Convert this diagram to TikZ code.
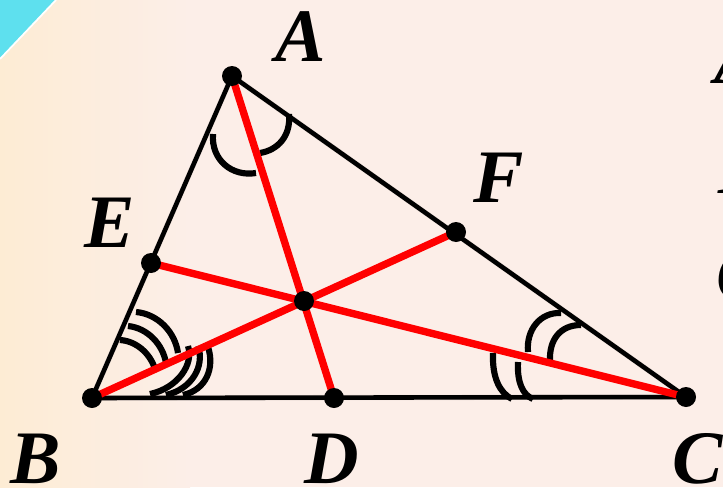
\documentclass[tikz,border=0pt]{standalone}
\usepackage{fontspec}
\setmainfont{Liberation Serif}
\definecolor{bgpink}{RGB}{252,238,232}
\definecolor{bgcream}{RGB}{253,236,212}
\definecolor{cornercyan}{RGB}{94,224,238}
\definecolor{segred}{RGB}{255,0,0}
\definecolor{shadowc}{RGB}{226,212,206}
\begin{document}
\begin{tikzpicture}[x=0.02cm,y=-0.02cm,
  side/.style={line width=2.6pt, black, line cap=round, line join=round},
  bisector/.style={line width=4.2pt, segred},
  anglemark/.style={line width=3.5pt, black},
  shadowline/.style={line width=3pt, shadowc},
  dot/.style={circle, fill=black, inner sep=0pt, minimum size=0.4cm},
  lab/.style={inner sep=0pt, font=\fontsize{43}{43}\selectfont\bfseries\itshape}]
\useasboundingbox (0,0) rectangle (723,487);
\clip (0,0) rectangle (723,487);
% background
\fill[bgpink] (0,0) rectangle (723,487);
\shade[left color=bgcream, right color=bgpink] (0,0) rectangle (190,487);
\fill[cornercyan] (0,0) -- (56,0) -- (0,59) -- cycle;
\draw[white, line width=1pt] (56,0) -- (0,59);
% points
\coordinate (A) at (232,76);
\coordinate (B) at (92,398);
\coordinate (C) at (686,397);
\coordinate (D) at (334,398);
\coordinate (E) at (151,263);
\coordinate (F) at (456,232);
\coordinate (O) at (304,301);
% soft shadows
\begin{scope}[shift={(3,4)}]
\draw[shadowline] (A) -- (B) -- (C) -- cycle;
\end{scope}
% triangle
\draw[side] (A) -- (B) -- (C) -- cycle;
% angle marks at A
\draw[anglemark] (213,134) .. controls (211,160) and (232,177) .. (256,173);
\draw[anglemark] (260,153) .. controls (278,150) and (291,136) .. (289,114);
% angle marks at B (upper)
\draw[anglemark] (120,340) .. controls (136,341) and (150,353) .. (155,369);
\draw[anglemark] (128,326) .. controls (148,328) and (163,345) .. (166,363);
\draw[anglemark] (136,312) .. controls (158,314) and (175,332) .. (178,353);
% angle marks at B (lower)
\draw[anglemark] (188,346) .. controls (194,364) and (178,388) .. (150,394);
\draw[anglemark] (198,346) .. controls (205,366) and (192,389) .. (166,395);
\draw[anglemark] (208,347) .. controls (215,368) and (206,390) .. (183,395);
% angle marks at C (upper)
\draw[anglemark] (528,352) .. controls (526,330) and (540,312) .. (561,313);
\draw[anglemark] (550,361) .. controls (549,340) and (560,325) .. (581,325);
% angle marks at C (lower)
\draw[anglemark] (493,353) .. controls (492,378) and (500,393) .. (512,399);
\draw[anglemark] (518,362) .. controls (517,383) and (523,395) .. (533,399);
% bisectors
\draw[bisector] (A) -- (D);
\draw[bisector] (B) -- (F);
\draw[bisector] (C) -- (E);
% dots
\node[dot] (pA) at (A) {};
\node[dot] (pB) at (B) {};
\node[dot] (pC) at (C) {};
\node[dot] (pD) at (D) {};
\node[dot] (pE) at (E) {};
\node[dot] (pF) at (F) {};
\node[dot] (pO) at (O) {};
% labels
\node[lab] (lA) at (301,37) {A};
\node[lab] (lB) at (36,459) {B};
\node[lab] (lD) at (332,459) {D};
\node[lab] (lC) at (698,459) {C};
\node[lab] (lE) at (110,223) {E};
\node[lab] (lF) at (499,178) {F};
% clipped letters at right edge
\node[lab, anchor=base west] (rA) at (714,83) {A};
\node[lab, anchor=base west] (rB) at (718,193) {B};
\node[lab, anchor=base west] (rC) at (716,300) {C};
\end{tikzpicture}
\end{document}
